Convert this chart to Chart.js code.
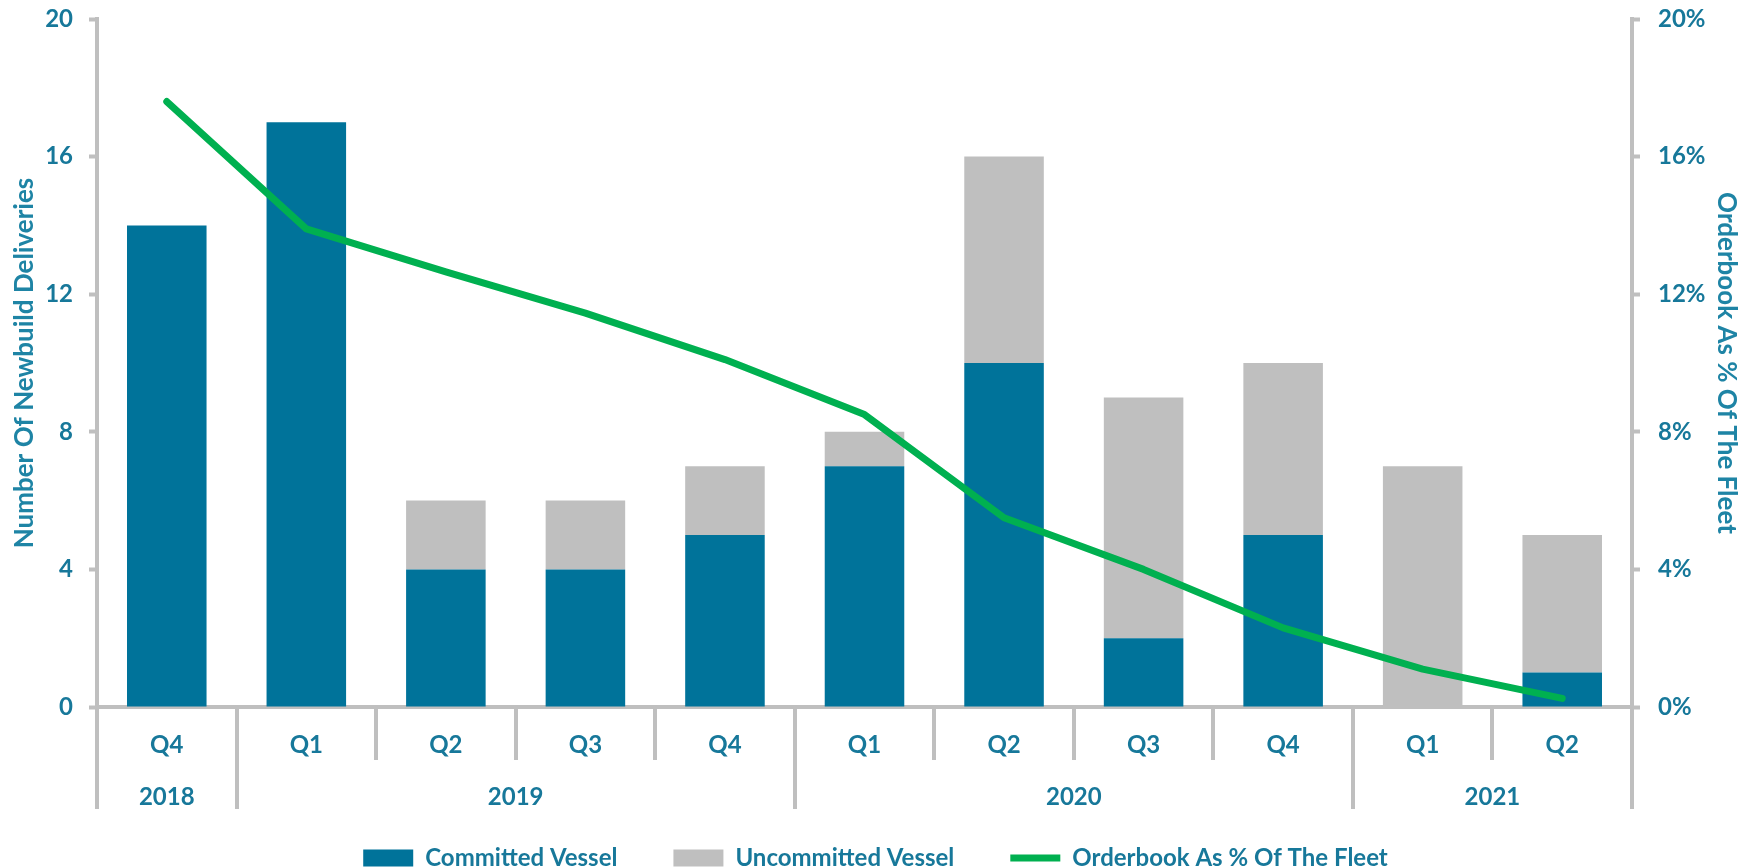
<!doctype html>
<html lang="en">
  <head>
    <meta charset="utf-8">
    <title>Newbuild Deliveries</title>
    <style>
      html, body {
        margin: 0;
        padding: 0;
        background: #ffffff;
      }
      .chart-container {
        width: 1752px;
        height: 868px;
        position: relative;
      }
    </style>
  </head>
  <body>
    <div class="chart-container">
      <canvas id="deliveriesChart"></canvas>
    </div>

    <script src="https://cdn.jsdelivr.net/npm/chart.js"></script>
    <script>
      const quarters = ['Q4', 'Q1', 'Q2', 'Q3', 'Q4', 'Q1', 'Q2', 'Q3', 'Q4', 'Q1', 'Q2'];
      const years = ['2018', '2019', '2019', '2019', '2019', '2020', '2020', '2020', '2020', '2021', '2021'];
      const committed = [14, 17, 4, 4, 5, 7, 10, 2, 5, 0, 1];
      const uncommitted = [0, 0, 2, 2, 2, 1, 6, 7, 5, 7, 4];
      const orderbookPct = [17.6, 13.9, 12.65, 11.45, 10.1, 8.5, 5.5, 4.0, 2.3, 1.1, 0.25];
      const leftTicks = [0, 4, 8, 12, 16, 20];
      const rightTicks = [0, 4, 8, 12, 16, 20];

      const TEXT = '#17789a';
      const TITLE = '#1e84a5';
      const AXIS = '#bfbfbf';
      const FONT = 'Lato, "Open Sans", sans-serif';

      // quarter separators below the axis plus the year row
      const yearAxis = {
        id: 'yearAxis',
        afterDraw(chart) {
          const x = chart.scales.x;
          const area = chart.chartArea;
          const ctx = chart.ctx;
          const n = quarters.length;
          const edge = (i) => {
            if (i === 0) return area.left;
            if (i === n) return area.right;
            return (x.getPixelForValue(i - 1) + x.getPixelForValue(i)) / 2;
          };
          ctx.save();
          ctx.strokeStyle = AXIS;
          ctx.lineWidth = 4;
          for (let i = 0; i <= n; i++) {
            const yearBreak = i === 0 || i === n || years[i] !== years[i - 1];
            const px = Math.round(edge(i));
            ctx.beginPath();
            ctx.moveTo(px, area.bottom);
            ctx.lineTo(px, area.bottom + (yearBreak ? 102 : 53));
            ctx.stroke();
          }
          ctx.fillStyle = TEXT;
          ctx.font = 'bold 24px ' + FONT;
          ctx.textAlign = 'center';
          ctx.textBaseline = 'middle';
          let start = 0;
          for (let i = 1; i <= n; i++) {
            if (i === n || years[i] !== years[start]) {
              const cx = (x.getPixelForValue(start) + x.getPixelForValue(i - 1)) / 2;
              ctx.fillText(years[start], cx, area.bottom + 90);
              start = i;
            }
          }
          ctx.restore();
        }
      };

      // keep the wide item spacing without the legend growing tall
      const legendHeight = {
        id: 'legendHeight',
        beforeLayout(chart) {
          const legend = chart.legend;
          if (!legend || legend._fixedFit) return;
          const fit = legend.fit;
          legend.fit = function () {
            fit.call(this);
            this.height = 78;
          };
          legend._fixedFit = true;
        }
      };

      document.addEventListener('DOMContentLoaded', function () {
        const ctx = document.getElementById('deliveriesChart').getContext('2d');
        new Chart(ctx, {
          type: 'bar',
          data: {
            labels: quarters,
            datasets: [
              {
                label: 'Committed Vessel',
                data: committed,
                backgroundColor: '#00739a',
                stack: 'vessels',
                yAxisID: 'y',
                order: 1,
                pointStyle: 'rect',
                barPercentage: 0.57,
                categoryPercentage: 1.0
              },
              {
                label: 'Uncommitted Vessel',
                data: uncommitted,
                backgroundColor: '#bfbfbf',
                stack: 'vessels',
                yAxisID: 'y',
                order: 1,
                pointStyle: 'rect',
                barPercentage: 0.57,
                categoryPercentage: 1.0
              },
              {
                type: 'line',
                label: 'Orderbook As % Of The Fleet',
                data: orderbookPct,
                borderColor: '#00b050',
                backgroundColor: '#00b050',
                borderWidth: 7,
                borderCapStyle: 'round',
                borderJoinStyle: 'round',
                pointRadius: 0,
                pointStyle: 'line',
                tension: 0,
                yAxisID: 'y1',
                order: 0
              }
            ]
          },
          options: {
            responsive: true,
            maintainAspectRatio: false,
            animation: false,
            layout: { padding: { top: 19, left: 9, right: 10, bottom: 0 } },
            plugins: {
              tooltip: { enabled: false },
              legend: {
                position: 'bottom',
                labels: {
                  usePointStyle: true,
                  pointStyleWidth: 50,
                  boxHeight: 17,
                  padding: 56,
                  color: TEXT,
                  font: { family: FONT, size: 24, weight: 'bold' },
                  sort: (a, b) => a.datasetIndex - b.datasetIndex
                }
              }
            },
            scales: {
              x: {
                stacked: true,
                offset: true,
                grid: { display: false, drawTicks: false },
                border: { display: true, color: AXIS, width: 4 },
                ticks: {
                  color: TEXT,
                  padding: 24,
                  font: { family: FONT, size: 24, weight: 'bold' }
                },
                afterFit: (scale) => { scale.height = 83; }
              },
              y: {
                stacked: true,
                position: 'left',
                min: 0,
                max: 20,
                afterBuildTicks: (scale) => { scale.ticks = leftTicks.map(v => ({ value: v })); },
                grid: { drawOnChartArea: false, drawTicks: true, tickLength: 8, tickWidth: 4, tickColor: AXIS },
                border: { display: true, color: AXIS, width: 4 },
                ticks: {
                  color: TEXT,
                  padding: 16,
                  font: { family: FONT, size: 24, weight: 'bold' }
                },
                title: {
                  display: true,
                  text: 'Number Of Newbuild Deliveries',
                  color: TITLE,
                  padding: 0,
                  font: { family: FONT, size: 26, weight: 'bold' }
                },
                afterFit: (scale) => {
                  scale.width = 88;
                  scale.paddingTop = 0;
                }
              },
              y1: {
                position: 'right',
                min: 0,
                max: 20,
                afterBuildTicks: (scale) => { scale.ticks = rightTicks.map(v => ({ value: v })); },
                grid: { drawOnChartArea: false, drawTicks: true, tickLength: 8, tickWidth: 4, tickColor: AXIS },
                border: { display: true, color: AXIS, width: 4 },
                ticks: {
                  color: TEXT,
                  padding: 18,
                  callback: (v) => v + '%',
                  font: { family: FONT, size: 24, weight: 'bold' }
                },
                title: {
                  display: true,
                  text: 'Orderbook As % Of The Fleet',
                  color: TITLE,
                  padding: 0,
                  font: { family: FONT, size: 26, weight: 'bold' }
                },
                afterFit: (scale) => {
                  scale.width = 110;
                  scale.paddingTop = 0;
                }
              }
            }
          },
          plugins: [yearAxis, legendHeight]
        });
      });
    </script>
  </body>
</html>
